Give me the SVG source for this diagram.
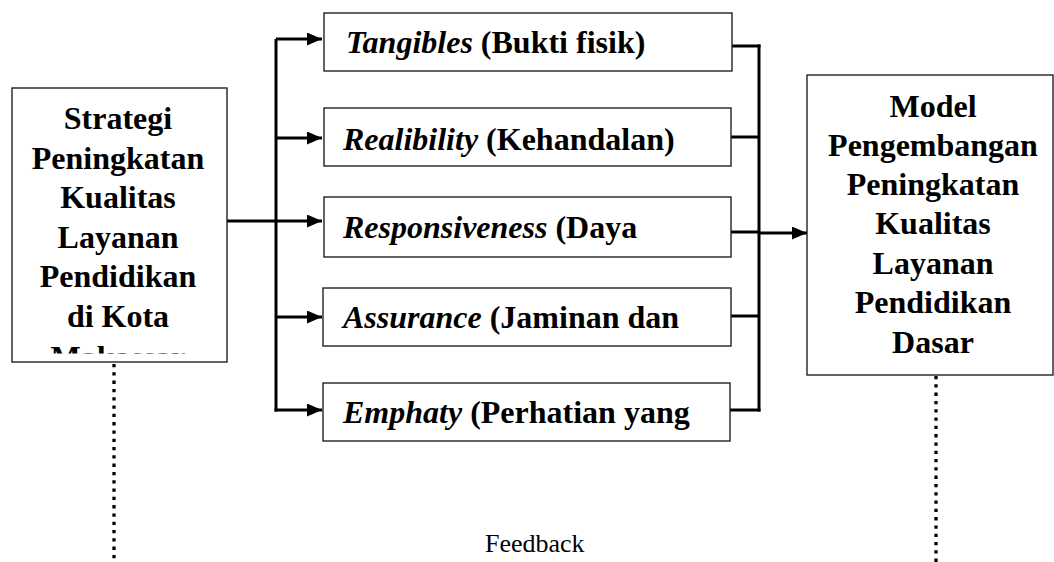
<svg xmlns="http://www.w3.org/2000/svg" width="1054" height="562" viewBox="0 0 1054 562">
  <style>
    .box { fill: #ffffff; stroke: #222222; stroke-width: 1.4; }
    .t { font-family: "Liberation Serif", "Times New Roman", serif; font-size: 32px; font-weight: bold; fill: #000000; }
    .c { text-anchor: middle; }
    .i { font-style: italic; }
    .conn { fill: none; stroke: #000000; stroke-width: 3; }
    .dot { fill: none; stroke: #000000; stroke-width: 3.3; stroke-dasharray: 3.3 5; }
    .fb { font-family: "Liberation Serif", "Times New Roman", serif; font-size: 26px; fill: #000000; }
  </style>
  <defs>
    <marker id="arr" markerUnits="userSpaceOnUse" markerWidth="16" markerHeight="14" refX="15" refY="6.5" orient="auto">
      <path d="M0,0 L15,6.5 L0,13 Z" fill="#000000"/>
    </marker>
    <clipPath id="leftclip">
      <rect x="12" y="88" width="215" height="265.5"/>
    </clipPath>
  </defs>
  <rect width="1054" height="562" fill="#ffffff"/>

  <g id="connectors">
    <line class="conn" x1="276" y1="39" x2="276" y2="411.5"/>
    <polyline class="conn" points="276,39 322,39" marker-end="url(#arr)"/>
    <polyline class="conn" points="276,138 322,138" marker-end="url(#arr)"/>
    <polyline class="conn" points="227,221 322,221" marker-end="url(#arr)"/>
    <polyline class="conn" points="276,317 322,317" marker-end="url(#arr)"/>
    <polyline class="conn" points="274.5,410 322,410" marker-end="url(#arr)"/>
    <line class="conn" x1="759" y1="44.5" x2="759" y2="411.5"/>
    <line class="conn" x1="732" y1="46" x2="760.5" y2="46"/>
    <line class="conn" x1="731" y1="137" x2="759" y2="137"/>
    <line class="conn" x1="731" y1="232" x2="759" y2="232"/>
    <line class="conn" x1="731" y1="316" x2="759" y2="316"/>
    <line class="conn" x1="730" y1="410" x2="760.5" y2="410"/>
    <polyline class="conn" points="759,233 807,233" marker-end="url(#arr)"/>
    <line class="dot" x1="114" y1="364" x2="114" y2="562"/>
    <line class="dot" x1="936" y1="376" x2="936" y2="562"/>
  </g>

  <g id="node-strategi">
    <rect class="box" x="12" y="88" width="215" height="274"/>
    <g clip-path="url(#leftclip)">
      <text class="t c" x="118" y="129">Strategi</text>
      <text class="t c" x="118" y="168.6">Peningkatan</text>
      <text class="t c" x="118" y="208.2">Kualitas</text>
      <text class="t c" x="118" y="247.8">Layanan</text>
      <text class="t c" x="118" y="287.4">Pendidikan</text>
      <text class="t c" x="118" y="327">di Kota</text>
      <text class="t c" x="118" y="368">Makassar</text>
    </g>
  </g>

  <g id="node-tangibles">
    <rect class="box" x="324" y="13" width="408" height="58"/>
    <text class="t" x="346" y="53"><tspan class="i">Tangibles</tspan> (Bukti fisik)</text>
  </g>
  <g id="node-realibility">
    <rect class="box" x="324" y="108" width="407" height="58"/>
    <text class="t" x="343" y="150"><tspan class="i">Realibility</tspan> (Kehandalan)</text>
  </g>
  <g id="node-responsiveness">
    <rect class="box" x="324" y="197" width="407" height="60"/>
    <text class="t" x="343" y="238"><tspan class="i">Responsiveness</tspan> (Daya</text>
  </g>
  <g id="node-assurance">
    <rect class="box" x="323" y="288" width="408" height="58"/>
    <text class="t" x="343" y="328"><tspan class="i">Assurance</tspan> (Jaminan dan</text>
  </g>
  <g id="node-emphaty">
    <rect class="box" x="323" y="383" width="407" height="58"/>
    <text class="t" x="343" y="423"><tspan class="i">Emphaty</tspan> (Perhatian yang</text>
  </g>

  <g id="node-model">
    <rect class="box" x="807" y="75" width="246" height="300"/>
    <text class="t c" x="933" y="117">Model</text>
    <text class="t c" x="933" y="156">Pengembangan</text>
    <text class="t c" x="933" y="195">Peningkatan</text>
    <text class="t c" x="933" y="234">Kualitas</text>
    <text class="t c" x="933" y="274">Layanan</text>
    <text class="t c" x="933" y="313">Pendidikan</text>
    <text class="t c" x="933" y="353">Dasar</text>
  </g>

  <g id="label-feedback">
    <text class="fb" x="485" y="552">Feedback</text>
  </g>
</svg>
